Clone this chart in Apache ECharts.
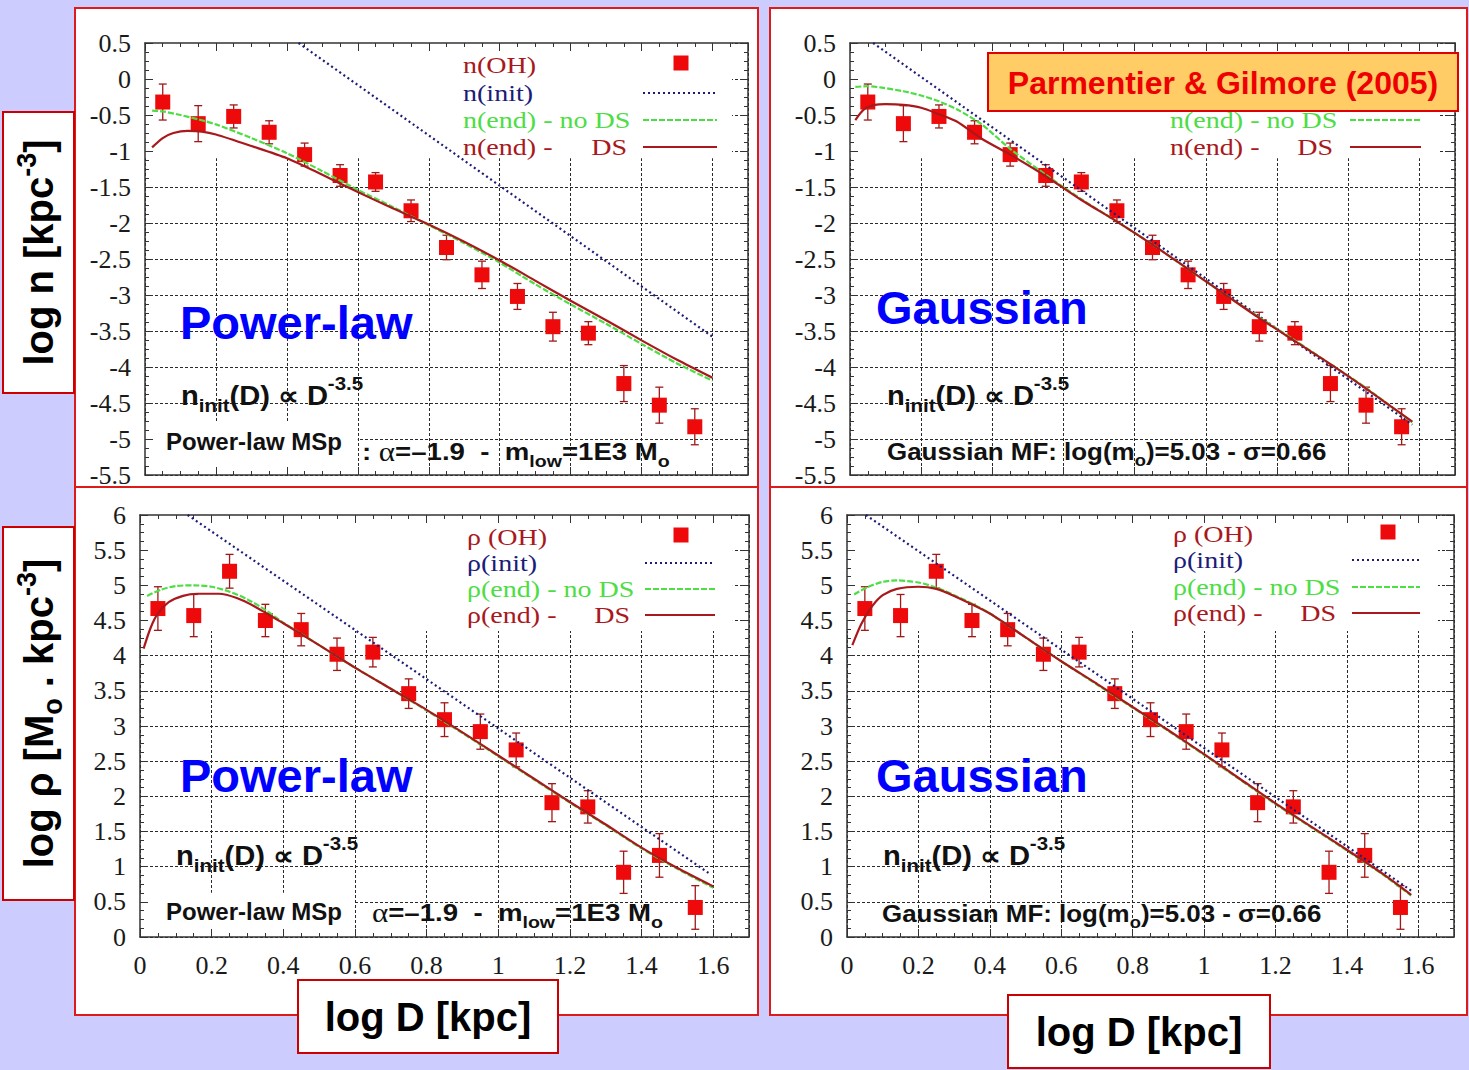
<!DOCTYPE html>
<html>
<head>
<meta charset="utf-8">
<style>
  html, body { margin: 0; padding: 0; background: #ccccff; }
  #chart { width: 1469px; height: 1070px; }
</style>
<script src="https://cdn.jsdelivr.net/npm/echarts@6/dist/echarts.min.js"></script>
</head>
<body>
<div id="chart"></div>
<script>
// ---- Observed open-cluster distribution (bin centres in log D [kpc]) ----
const logD = [0.05, 0.15, 0.25, 0.35, 0.45, 0.55, 0.65, 0.75, 0.85, 0.95, 1.05, 1.15, 1.25, 1.35, 1.45, 1.55];
const nOH = [-0.32, -0.62, -0.52, -0.74, -1.05, -1.34, -1.43, -1.83, -2.34, -2.72, -3.02, -3.44, -3.53, -4.23, -4.53, -4.83];
const nErr = [0.25, 0.25, 0.16, 0.16, 0.16, 0.15, 0.13, 0.15, 0.17, 0.19, 0.18, 0.2, 0.16, 0.25, 0.25, 0.25];
const rhoOH = [4.67, 4.57, 5.2, 4.5, 4.37, 4.02, 4.05, 3.46, 3.09, 2.92, 2.66, 1.91, 1.85, 0.92, 1.16, 0.42];
const rhoErr = [0.31, 0.3, 0.24, 0.23, 0.23, 0.23, 0.21, 0.21, 0.24, 0.25, 0.24, 0.27, 0.23, 0.3, 0.31, 0.31];

// ---- Model curves, [log D, value] ----
const nInitPL = [[0.433, 0.5], [1.6, -3.58]];
const nNoDSPL = [[0.02, -0.44], [0.05, -0.45], [0.1, -0.5], [0.15, -0.56], [0.2, -0.63], [0.3, -0.82], [0.4, -1.03], [0.5, -1.28], [0.6, -1.54], [0.7, -1.78], [0.8, -2.03], [0.9, -2.28], [1.0, -2.55], [1.1, -2.85], [1.2, -3.13], [1.3, -3.4], [1.4, -3.68], [1.5, -3.95], [1.6, -4.19]];
const nDSPL = [[0.02, -0.95], [0.05, -0.82], [0.08, -0.75], [0.12, -0.72], [0.16, -0.73], [0.2, -0.77], [0.3, -0.93], [0.4, -1.1], [0.5, -1.33], [0.6, -1.57], [0.7, -1.8], [0.8, -2.02], [0.9, -2.26], [1.0, -2.52], [1.1, -2.8], [1.2, -3.08], [1.3, -3.35], [1.4, -3.63], [1.5, -3.9], [1.6, -4.15]];

const nInitG = [[0.065, 0.5], [1.58, -4.8]];
const nNoDSG = [[0.015, -0.11], [0.05, -0.1], [0.09, -0.12], [0.15, -0.17], [0.2, -0.23], [0.25, -0.31], [0.3, -0.42], [0.37, -0.63], [0.45, -0.97], [0.55, -1.33], [0.65, -1.67], [0.75, -1.98], [0.85, -2.3], [0.95, -2.64], [1.05, -2.98], [1.15, -3.31], [1.25, -3.63], [1.35, -3.96], [1.45, -4.29], [1.58, -4.77]];
const nDSG = [[0.015, -0.57], [0.04, -0.42], [0.07, -0.36], [0.1, -0.35], [0.15, -0.36], [0.2, -0.4], [0.25, -0.49], [0.3, -0.59], [0.37, -0.83], [0.45, -1.05], [0.55, -1.35], [0.65, -1.68], [0.75, -1.98], [0.85, -2.3], [0.95, -2.64], [1.05, -2.98], [1.15, -3.32], [1.25, -3.64], [1.35, -3.96], [1.45, -4.3], [1.58, -4.76]];

const rhoInitPL = [[0.133, 6], [1.59, 0.9]];
const rhoNoDSPL = [[0.02, 4.85], [0.06, 4.94], [0.1, 4.99], [0.15, 5.0], [0.2, 4.98], [0.25, 4.91], [0.3, 4.8], [0.35, 4.65], [0.4, 4.47], [0.5, 4.15], [0.6, 3.83], [0.7, 3.53], [0.8, 3.22], [0.9, 2.9], [1.0, 2.57], [1.1, 2.24], [1.2, 1.91], [1.3, 1.59], [1.4, 1.26], [1.5, 0.97], [1.6, 0.7]];
const rhoDSPL = [[0.01, 4.1], [0.03, 4.4], [0.05, 4.6], [0.08, 4.76], [0.12, 4.85], [0.16, 4.88], [0.22, 4.88], [0.27, 4.82], [0.32, 4.7], [0.4, 4.46], [0.5, 4.15], [0.6, 3.83], [0.7, 3.53], [0.8, 3.23], [0.9, 2.91], [1.0, 2.58], [1.1, 2.25], [1.2, 1.92], [1.3, 1.6], [1.4, 1.27], [1.5, 0.98], [1.6, 0.72]];

const rhoInitG = [[0.053, 6], [1.58, 0.66]];
const rhoNoDSG = [[0.02, 4.87], [0.06, 4.98], [0.1, 5.05], [0.14, 5.07], [0.2, 5.04], [0.25, 4.97], [0.3, 4.86], [0.35, 4.74], [0.4, 4.6], [0.5, 4.26], [0.6, 3.92], [0.7, 3.59], [0.8, 3.26], [0.9, 2.93], [1.0, 2.59], [1.1, 2.24], [1.2, 1.89], [1.3, 1.56], [1.4, 1.23], [1.5, 0.89], [1.58, 0.59]];
const rhoDSG = [[0.015, 4.15], [0.04, 4.45], [0.07, 4.7], [0.1, 4.86], [0.14, 4.95], [0.2, 4.98], [0.25, 4.95], [0.3, 4.85], [0.4, 4.6], [0.5, 4.26], [0.6, 3.92], [0.7, 3.6], [0.8, 3.27], [0.9, 2.94], [1.0, 2.6], [1.1, 2.25], [1.2, 1.9], [1.3, 1.57], [1.4, 1.24], [1.5, 0.9], [1.58, 0.6]];

// ---- Tick labels ----
const xTickLabels = ['0', '0.2', '0.4', '0.6', '0.8', '1', '1.2', '1.4', '1.6'];
const nTickLabels = ['0.5', '0', '-0.5', '-1', '-1.5', '-2', '-2.5', '-3', '-3.5', '-4', '-4.5', '-5', '-5.5'];
const rhoTickLabels = ['6', '5.5', '5', '4.5', '4', '3.5', '3', '2.5', '2', '1.5', '1', '0.5', '0'];

// ---- Styling ----
const SANS = 'Liberation Sans';
const SERIF = 'Liberation Serif';
const C_OH = '#ee0a0a', C_BAR = '#a01818', C_INIT = '#1c1c78', C_NODS = '#4ddd44', C_DS = '#a8181c';
const PANEL_RED = '#dd1b1b';

const grids = [
  { left: 145, top: 43, width: 603, height: 432 },   // n, power-law
  { left: 850, top: 43, width: 605, height: 432 },   // n, gaussian
  { left: 140, top: 515, width: 609, height: 422 },  // rho, power-law
  { left: 847, top: 515, width: 607, height: 422 }   // rho, gaussian
];

const fmtNum = v => String(+(+v).toFixed(2));
const pickLabel = list => v => (list.indexOf(fmtNum(v)) >= 0 ? fmtNum(v) : '');

const gridLine = { color: '#2a2a2a', width: 1, type: [3, 2] };
const frameLine = { color: '#333', width: 1.5 };
const tickFont = { fontFamily: SERIF, fontSize: 26, color: '#1a1a1a' };

const xAxis = [], yAxis = [];
grids.forEach((g, i) => {
  const lower = i >= 2;
  const yMin = lower ? 0 : -5.5, yMax = lower ? 6 : 0.5;
  const yLabels = lower ? rhoTickLabels : nTickLabels;
  // grid lines and labels
  xAxis.push({
    type: 'value', gridIndex: i, min: 0, max: 1.7, interval: 0.2, position: 'bottom', z: 0,
    axisLine: { show: false, onZero: false }, axisTick: { show: false },
    axisLabel: Object.assign({ show: lower, margin: 15, formatter: pickLabel(xTickLabels) }, tickFont),
    splitLine: { show: true, lineStyle: gridLine }
  });
  yAxis.push({
    type: 'value', gridIndex: i, min: yMin, max: yMax, interval: 0.5, position: 'left', z: 0,
    axisLine: { show: false, onZero: false }, axisTick: { show: false },
    axisLabel: Object.assign({ show: true, margin: 14, formatter: pickLabel(yLabels) }, tickFont),
    splitLine: { show: true, lineStyle: gridLine }
  });
  // frame with inward ticks on all four sides
  ['bottom', 'top'].forEach(pos => xAxis.push({
    type: 'value', gridIndex: i, min: 0, max: 1.7, interval: 0.2, position: pos, z: 3,
    axisLine: { show: true, onZero: false, lineStyle: frameLine },
    axisTick: { show: true, inside: true, length: 8, lineStyle: { color: '#333', width: 1 } },
    minorTick: { show: true, splitNumber: 4, length: 4, lineStyle: { color: '#333', width: 1 } },
    axisLabel: { show: false }, splitLine: { show: false }
  }));
  ['left', 'right'].forEach(pos => yAxis.push({
    type: 'value', gridIndex: i, min: yMin, max: yMax, interval: 0.5, position: pos, z: 3,
    axisLine: { show: true, onZero: false, lineStyle: frameLine },
    axisTick: { show: true, inside: true, length: 8, lineStyle: { color: '#333', width: 1 } },
    minorTick: { show: true, splitNumber: 4, length: 4, lineStyle: { color: '#333', width: 1 } },
    axisLabel: { show: false }, splitLine: { show: false }
  }));
});

// one panel = observed points with error bars + three model curves
function panelSeries(i, obs, err, init, noDS, ds) {
  const ax = { xAxisIndex: 3 * i, yAxisIndex: 3 * i };
  return [
    Object.assign({
      type: 'custom', z: 2, silent: true,
      data: logD.map((x, k) => [x, obs[k], err[k]]),
      encode: { x: 0, y: 1 },
      renderItem: (params, api) => {
        const x = api.value(0), y = api.value(1), e = api.value(2);
        const lo = api.coord([x, y - e]), hi = api.coord([x, y + e]);
        const cap = 4, st = { stroke: C_BAR, lineWidth: 1.3 };
        return { type: 'group', children: [
          { type: 'line', shape: { x1: lo[0], y1: lo[1], x2: hi[0], y2: hi[1] }, style: st },
          { type: 'line', shape: { x1: lo[0] - cap, y1: lo[1], x2: lo[0] + cap, y2: lo[1] }, style: st },
          { type: 'line', shape: { x1: hi[0] - cap, y1: hi[1], x2: hi[0] + cap, y2: hi[1] }, style: st }
        ] };
      }
    }, ax),
    Object.assign({
      type: 'scatter', z: 3, silent: true, symbol: 'rect', symbolSize: 15,
      itemStyle: { color: C_OH, opacity: 1 }, data: logD.map((x, k) => [x, obs[k]])
    }, ax),
    Object.assign({
      type: 'line', z: 4, silent: true, showSymbol: false, data: init,
      lineStyle: { color: C_INIT, width: 2.2, type: [2, 3] }
    }, ax),
    Object.assign({
      type: 'line', z: 4, silent: true, showSymbol: false, smooth: 0.25, data: noDS,
      lineStyle: { color: C_NODS, width: 2.2, type: [6, 2] }
    }, ax),
    Object.assign({
      type: 'line', z: 5, silent: true, showSymbol: false, smooth: 0.25, data: ds,
      lineStyle: { color: C_DS, width: 2.2 }
    }, ax)
  ];
}

const series = [].concat(
  panelSeries(0, nOH, nErr, nInitPL, nNoDSPL, nDSPL),
  panelSeries(1, nOH, nErr, nInitG, nNoDSG, nDSG),
  panelSeries(2, rhoOH, rhoErr, rhoInitPL, rhoNoDSPL, rhoDSPL),
  panelSeries(3, rhoOH, rhoErr, rhoInitG, rhoNoDSG, rhoDSG)
);

// ---- Decorations: panels, boxes, keys and annotations ----
let gid = 0;
const el = o => Object.assign({ id: 'g' + (gid++), silent: true }, o);
const graphic = [];

// white panels with red frames
[[75, 8, 683, 479], [770, 8, 697, 479], [75, 487, 683, 528], [770, 487, 697, 528]].forEach(r => graphic.push(el({
  type: 'rect', z: -10, shape: { x: r[0], y: r[1], width: r[2], height: r[3] },
  style: { fill: '#ffffff', stroke: PANEL_RED, lineWidth: 2 }
})));

// axis title boxes
function titleBox(x, y, w, h, text, rich, rotation) {
  graphic.push(el({ type: 'rect', z: 20, shape: { x, y, width: w, height: h }, style: { fill: '#ffffff', stroke: '#cc0000', lineWidth: 2 } }));
  graphic.push(el({
    type: 'text', z: 21, x: x + w / 2, y: y + h / 2, rotation: rotation || 0,
    style: { text, rich, align: 'center', verticalAlign: 'middle', fill: '#000' }
  }));
}
const tb = { fontFamily: SANS, fontWeight: 'bold', fontSize: 40, lineHeight: 50, fill: '#000' };
const tbSup = { fontFamily: SANS, fontWeight: 'bold', fontSize: 27, height: 26, verticalAlign: 'top', fill: '#000' };
const tbSub = { fontFamily: SANS, fontWeight: 'bold', fontSize: 27, height: 22, verticalAlign: 'bottom', fill: '#000' };
titleBox(3, 112, 71, 281, '{a|log n [kpc}{p|-3}{a|]}', { a: tb, p: tbSup }, Math.PI / 2);
titleBox(3, 527, 71, 373, '{a|log ρ [M}{s|o}{a| . kpc}{p|-3}{a|]}', { a: tb, p: tbSup, s: tbSub }, Math.PI / 2);
titleBox(298, 980, 260, 73, '{a|log D [kpc]}', { a: tb });
titleBox(1008, 995, 262, 73, '{a|log D [kpc]}', { a: tb });

// keys (text left, sample right)
function key(tx, rightX, sx0, sx1, ys, sym, lines) {
  const txt = (x, y, s, color, align) => graphic.push(el({
    type: 'text', z: 8, x, y, scaleX: 1.22,
    style: { text: s, fontFamily: SERIF, fontSize: 23, fill: color, align, verticalAlign: 'middle' }
  }));
  txt(tx, ys[0], lines[0], C_DS, 'left');
  txt(tx, ys[1], lines[1], C_INIT, 'left');
  txt(tx, ys[2], lines[2], C_NODS, 'left');
  txt(tx, ys[3], lines[3], C_DS, 'left');
  txt(rightX, ys[3], 'DS', C_DS, 'right');
  graphic.push(el({ type: 'rect', z: 8, shape: { x: sym - 7.5, y: ys[0] - 9.5, width: 15, height: 15 }, style: { fill: C_OH } }));
  const seg = (y, stroke, dash) => graphic.push(el({
    type: 'line', z: 8, shape: { x1: sx0, y1: y, x2: sx1, y2: y }, style: { stroke, lineWidth: 2, lineDash: dash }
  }));
  seg(ys[1], C_INIT, [2, 3]);
  seg(ys[2], C_NODS, [6, 2]);
  seg(ys[3], C_DS, null);
}
key(463, 627, 643, 717, [65, 93, 120, 147], 681, ['n(OH)', 'n(init)', 'n(end) - no DS', 'n(end) -']);
key(1170, 1333, 1350, 1421, [65, 93, 120, 147], 1388, ['n(OH)', 'n(init)', 'n(end) - no DS', 'n(end) -']);
key(467, 630, 645, 715, [537, 563, 589, 615], 681, ['ρ (OH)', 'ρ(init)', 'ρ(end) - no DS', 'ρ(end) -']);
key(1173, 1336, 1352, 1420, [534, 560, 587, 613], 1388, ['ρ (OH)', 'ρ(init)', 'ρ(end) - no DS', 'ρ(end) -']);

// big model names
function bigLabel(x, y, s) {
  graphic.push(el({ type: 'text', z: 12, x, y, style: { text: s, fontFamily: SANS, fontWeight: 'bold', fontSize: 47, fill: '#0000ff', verticalAlign: 'middle' } }));
}
bigLabel(180, 322, 'Power-law');
bigLabel(180, 775, 'Power-law');
bigLabel(876, 307, 'Gaussian');
bigLabel(876, 775, 'Gaussian');

// annotations
const aB = { fontFamily: SANS, fontWeight: 'bold', fontSize: 27, lineHeight: 40, fill: '#111' };
const aSub = { fontFamily: SANS, fontWeight: 'bold', fontSize: 19, height: 22, verticalAlign: 'bottom', fill: '#111' };
const aSup = { fontFamily: SANS, fontWeight: 'bold', fontSize: 19, height: 14, verticalAlign: 'top', fill: '#111' };
function ninit(x, y) {
  graphic.push(el({ type: 'text', z: 9, x, y, scaleX: 1.08, style: {
    text: '{b|n}{s|init}{b|(D) ∝ D}{p|-3.5}', rich: { b: aB, s: aSub, p: aSup }, align: 'left', verticalAlign: 'middle'
  } }));
}
ninit(181, 396); ninit(887, 396); ninit(176, 856); ninit(883, 856);

const mB = { fontFamily: SANS, fontWeight: 'bold', fontSize: 24, lineHeight: 36, fill: '#111' };
const mSub = { fontFamily: SANS, fontWeight: 'bold', fontSize: 17, height: 18, verticalAlign: 'bottom', fill: '#111' };
const mGreek = { fontFamily: SERIF, fontSize: 27, lineHeight: 36, fill: '#111' };
function note(x, y, text, sx) {
  graphic.push(el({ type: 'text', z: 9, x, y, scaleX: sx || 1, style: {
    text, rich: { g: mB, s: mSub, a: mGreek }, align: 'left', verticalAlign: 'middle'
  } }));
}
note(166, 441, '{g|Power-law MSp}');
note(166, 911, '{g|Power-law MSp}');
note(362, 452, '{g|: }{a|α}{g|=–1.9  -  m}{s|low}{g|=1E3 M}{s|o}', 1.15);
note(372, 913, '{a|α}{g|=–1.9  -  m}{s|low}{g|=1E3 M}{s|o}', 1.15);
note(887, 451, '{g|Gaussian MF: log(m}{s|o}{g|)=5.03 - σ=0.66}', 1.08);
note(882, 913, '{g|Gaussian MF: log(m}{s|o}{g|)=5.03 - σ=0.66}', 1.08);

// reference banner
graphic.push(el({ type: 'rect', z: 30, shape: { x: 988, y: 53, width: 470, height: 58 }, style: { fill: '#ffcc66', stroke: '#e00000', lineWidth: 2 } }));
graphic.push(el({ type: 'text', z: 31, x: 1223, y: 83, style: {
  text: 'Parmentier & Gilmore (2005)', fontFamily: SANS, fontWeight: 'bold', fontSize: 32, fill: '#ee0000', align: 'center', verticalAlign: 'middle'
} }));

const chart = echarts.init(document.getElementById('chart'), null, { renderer: 'svg', width: 1469, height: 1070 });
chart.setOption({
  backgroundColor: '#ccccff',
  animation: false,
  grid: grids,
  xAxis, yAxis, series, graphic
});

// opaque areas that mask the grid behind the keys and the parameter notes
const masks = [
  [0, [0, 0.5], [1.655, -1.1]],
  [1, [0, 0.5], [1.655, -1.1]],
  [2, [0, 6], [1.655, 4.35]],
  [3, [0, 6], [1.655, 4.35]],
  [0, [0, -4.76], [0.6, -5.5]],
  [2, [0, 0.63], [0.6, 0]]
];
const maskEls = masks.map(m => {
  const finder = { xAxisIndex: 3 * m[0], yAxisIndex: 3 * m[0] };
  const p0 = chart.convertToPixel(finder, m[1]);
  const p1 = chart.convertToPixel(finder, m[2]);
  return el({ type: 'rect', z: 1, shape: { x: p0[0], y: p0[1], width: p1[0] - p0[0], height: p1[1] - p0[1] }, style: { fill: '#ffffff' } });
});
chart.setOption({ graphic: maskEls });
</script>
</body>
</html>
